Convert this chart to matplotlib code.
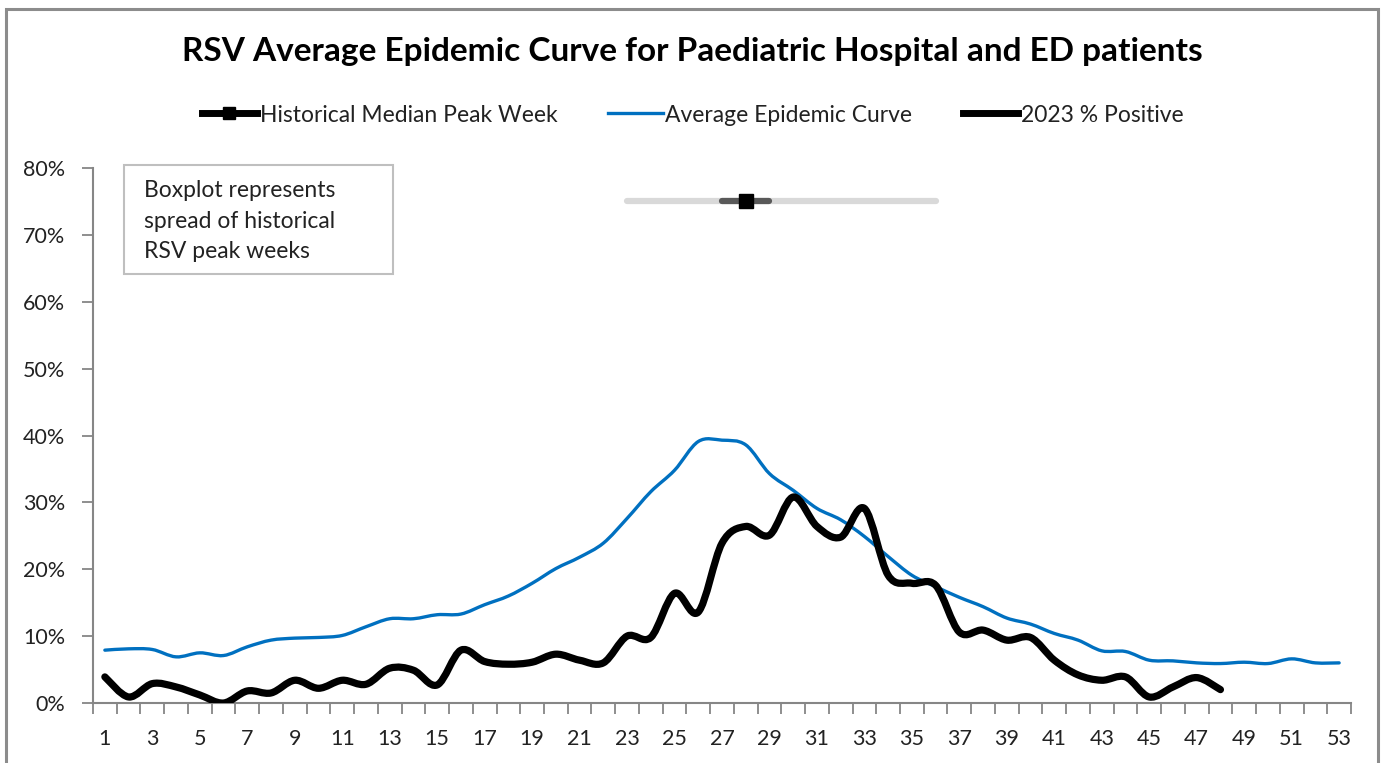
import matplotlib
matplotlib.use("Agg")
import matplotlib.pyplot as plt
import numpy as np
from matplotlib.path import Path
from matplotlib.patches import PathPatch, Rectangle
from matplotlib.lines import Line2D
from matplotlib.ticker import PercentFormatter

plt.rcParams['font.family'] = ['Lato', 'DejaVu Sans']

weeks = list(range(1, 54))

# average epidemic curve, % positive by week
avg_curve = [7.9, 8.1, 8.0, 6.9, 7.5, 7.1, 8.4, 9.4, 9.7, 9.8,
             10.1, 11.4, 12.6, 12.6, 13.2, 13.3, 14.7, 16.0, 17.9, 20.1,
             21.8, 23.9, 27.6, 31.6, 34.8, 39.1, 39.3, 38.6, 34.3, 31.8,
             29.1, 27.4, 24.9, 21.9, 19.1, 17.4, 15.8, 14.4, 12.7, 11.8,
             10.4, 9.4, 7.8, 7.7, 6.4, 6.3, 6.0, 5.9, 6.1, 5.9,
             6.6, 6.0, 6.0]

# 2023 % positive, weeks 1-48
weeks_2023 = list(range(1, 49))
pos_2023 = [3.9, 0.9, 2.9, 2.4, 1.2, 0.0, 1.8, 1.5, 3.4, 2.2,
            3.4, 2.8, 5.2, 4.9, 2.7, 7.9, 6.2, 5.8, 6.1, 7.3,
            6.4, 6.0, 10.0, 9.8, 16.4, 13.6, 23.9, 26.4, 25.1, 30.8,
            26.4, 24.8, 29.1, 19.1, 17.9, 17.6, 10.6, 10.9, 9.4, 9.8,
            6.4, 4.2, 3.4, 3.9, 0.9, 2.4, 3.8, 2.0]

# historical peak week spread (boxplot)
peak_min, peak_q1, peak_median, peak_q3, peak_max = 23, 27, 28, 29, 36
boxplot_y = 75


def smooth_path(xs, ys):
    # excel style smoothed line: catmull-rom -> cubic bezier
    xs = np.asarray(xs, float)
    ys = np.asarray(ys, float) / 100
    pts = np.column_stack([xs, ys])
    verts = [pts[0]]
    codes = [Path.MOVETO]
    n = len(pts)
    for i in range(n - 1):
        p0 = pts[i - 1] if i > 0 else pts[i]
        p1 = pts[i]
        p2 = pts[i + 1]
        p3 = pts[i + 2] if i + 2 < n else pts[i + 1]
        c1 = p1 + (p2 - p0) / 6
        c2 = p2 - (p3 - p1) / 6
        verts += [c1, c2, p2]
        codes += [Path.CURVE4] * 3
    return Path(verts, codes)


fig = plt.figure(figsize=(13.85, 7.63), dpi=100)
ax = fig.add_axes([93 / 1385, 1 - 703 / 763, (1351 - 93) / 1385, (703 - 168) / 763])

blue = '#0070C0'
ax.add_patch(PathPatch(smooth_path(weeks, avg_curve), fill=False, edgecolor=blue,
                       lw=2.4, capstyle='round', joinstyle='round', zorder=3))
ax.add_patch(PathPatch(smooth_path(weeks_2023, pos_2023), fill=False, edgecolor='black',
                       lw=5.2, capstyle='round', joinstyle='round', zorder=4))

# boxplot of historical peak weeks
by = boxplot_y / 100
ax.plot([peak_min, peak_max], [by, by], color='#d9d9d9', lw=4.5,
        solid_capstyle='round', zorder=2)
ax.plot([peak_q1, peak_q3], [by, by], color='#595959', lw=4.5,
        solid_capstyle='round', zorder=3)
ax.plot([peak_median], [by], marker='s', color='black', ms=10, zorder=5)

ax.set_xlim(0.5, 53.5)
ax.set_ylim(0, 0.8)
ax.yaxis.set_major_formatter(PercentFormatter(1.0, decimals=0))
ax.set_yticks(np.arange(0, 0.81, 0.1))
ax.set_xticks(weeks[::2])
ax.set_xticks(np.arange(0.5, 54, 1), minor=True)
ax.tick_params(axis='x', which='major', length=0, pad=19, labelsize=15.5, colors='#222222')
ax.tick_params(axis='x', which='minor', length=8, width=1.3, color='#868686', direction='out')
ax.tick_params(axis='y', length=8, width=1.3, color='#868686', labelsize=15.5,
               labelcolor='#222222', pad=12)
for s in ['top', 'right']:
    ax.spines[s].set_visible(False)
for s in ['left', 'bottom']:
    ax.spines[s].set_color('#868686')
    ax.spines[s].set_linewidth(1.5)

fig.text(0.5, 1 - 52 / 763, 'RSV Average Epidemic Curve for Paediatric Hospital and ED patients',
         ha='center', va='center', fontsize=24, fontweight='bold')

handles = [
    Line2D([], [], color='black', lw=5, marker='s', ms=9),
    Line2D([], [], color=blue, lw=2.4),
    Line2D([], [], color='black', lw=5),
]
labels = ['Historical Median Peak Week', 'Average Epidemic Curve', '2023 % Positive']
fig.legend(handles, labels, loc='center', bbox_to_anchor=(0.5, 1 - 115 / 763), ncol=3,
           frameon=False, fontsize=16.5, handlelength=2.4, handletextpad=0.12,
           columnspacing=2.2, labelcolor='#222222')

fig.text(144 / 1385, 1 - 221 / 763,
         'Boxplot represents\nspread of historical\nRSV peak weeks',
         ha='left', va='center', fontsize=16.5, linespacing=1.54, color='#222222')
fig.add_artist(Rectangle((124 / 1385, 1 - 274 / 763), (393 - 124) / 1385, (274 - 165) / 763,
                         transform=fig.transFigure, fill=False, edgecolor='#bfbfbf', lw=1.5))

# chart border
fig.add_artist(Rectangle((6 / 1385, -0.05), (1378 - 6) / 1385, 1.05 - 9 / 763,
                         transform=fig.transFigure, fill=False, edgecolor='#8c8c8c', lw=2.2))

fig.savefig('out.png', dpi=100)
